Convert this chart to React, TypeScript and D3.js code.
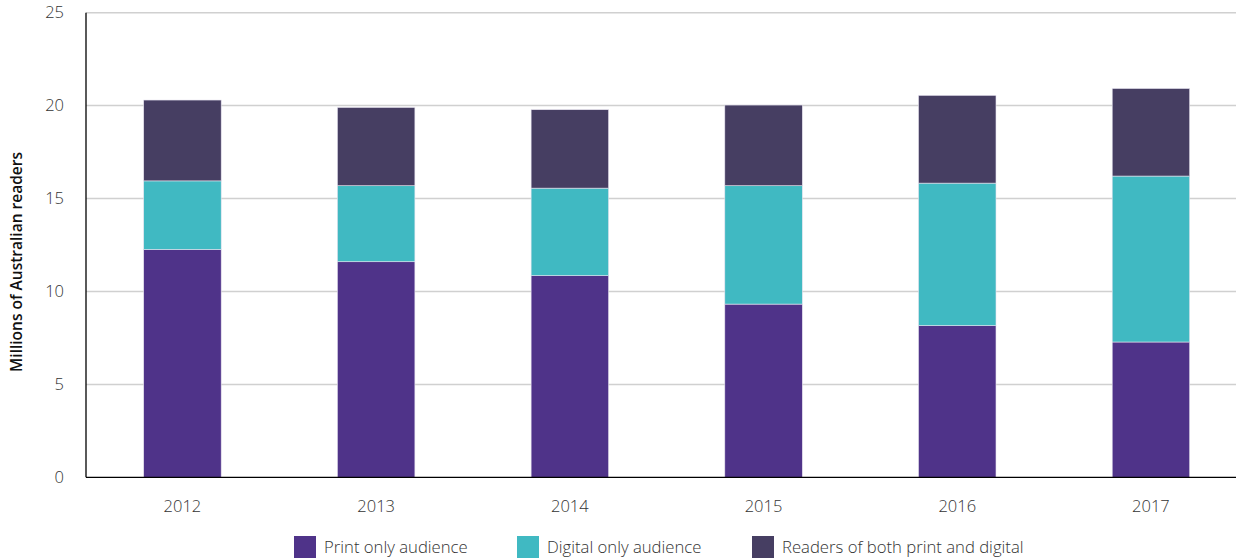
import React from "react";
import * as d3 from "d3";

const years = ["2012", "2013", "2014", "2015", "2016", "2017"];
const printOnly = [12.26, 11.6, 10.85, 9.32, 8.16, 7.28];
const digitalOnly = [3.69, 4.09, 4.71, 6.37, 7.67, 8.93];
const both = [4.35, 4.21, 4.22, 4.34, 4.72, 4.71];
const seriesNames = ["Print only audience", "Digital only audience", "Readers of both print and digital"];
const colors = ["#4F3389", "#40B9C2", "#463E62"];
const yTicks = [0, 5, 10, 15, 20, 25];

const W = 1240, H = 560;
const left = 86, right = 1236, top = 12.7, bottom = 477.3;

export default function App() {
  const x = d3.scaleBand<string>().domain(years).range([85.6, 1247.8]).paddingInner(0.6).paddingOuter(0.3);
  const y = d3.scaleLinear().domain([0, 25]).range([bottom, top]);
  const rows = years.map((yr, i) => ({ year: yr, p: printOnly[i], d: digitalOnly[i], b: both[i] }));
  const stack = d3.stack<any>().keys(["p", "d", "b"])(rows);
  const font = "'Open Sans', 'DejaVu Sans', sans-serif";
  const legendX = [294, 517, 752];
  return (
    <svg width={W} height={H} style={{ position: "absolute", left: 0, top: 0 }} fontFamily={font}>
      <rect width={W} height={H} fill="#fff" />
      {yTicks.map((t) => (
        <g key={t}>
          {t > 0 && <line x1={left} x2={right} y1={y(t)} y2={y(t)} stroke="#d0d0d0" strokeWidth={1.5} />}
          <text x={64} y={y(t)} dy="0.35em" textAnchor="end" fontSize={16.5} fill="#333" fontWeight={300}>{t}</text>
        </g>
      ))}
      {stack.map((s, si) =>
        s.map((seg, i) => (
          <rect key={si + "-" + i}
            x={x(years[i])!} width={x.bandwidth()}
            y={y(seg[1])} height={y(seg[0]) - y(seg[1])}
            fill={colors[si]} stroke="#e6e3ef" strokeWidth={0.6} />
        ))
      )}
      <line x1={left} x2={left} y1={top} y2={bottom} stroke="#000" strokeWidth={1.3} />
      <line x1={left} x2={right} y1={bottom} y2={bottom} stroke="#000" strokeWidth={1.3} />
      {years.map((yr) => (
        <text key={yr} x={x(yr)! + x.bandwidth() / 2} y={512} textAnchor="middle" fontSize={16.5} fill="#333" fontWeight={300}>{yr}</text>
      ))}
      <text transform={`translate(22,262) rotate(-90)`} textAnchor="middle" fontSize={15.5} fill="#111" fontWeight={600}>Millions of Australian readers</text>
      {seriesNames.map((n, i) => (
        <g key={n}>
          <rect x={legendX[i]} y={536} width={22} height={22} fill={colors[i]} />
          <text x={legendX[i] + 30} y={553} fontSize={16.7} fill="#333" fontWeight={300}>{n}</text>
        </g>
      ))}
    </svg>
  );
}
